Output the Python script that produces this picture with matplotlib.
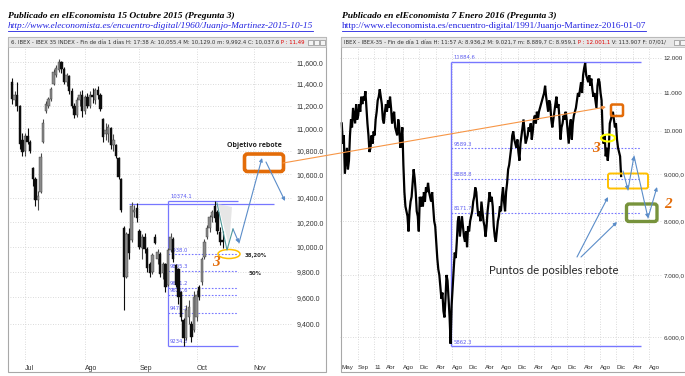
import matplotlib
matplotlib.use("Agg")
import matplotlib.pyplot as plt
import numpy as np
from matplotlib.patches import Rectangle, FancyBboxPatch, Ellipse, Polygon, FancyArrowPatch
from matplotlib.lines import Line2D
from matplotlib.transforms import Affine2D
from matplotlib.ticker import NullLocator, FixedLocator

# ---------------- data: left chart (IBEX 35 daily OHLC, 24 Jun - 14 Oct 2015) ----------------
l_open = [11420, 11250, 11300, 11200, 10900, 10800, 10930, 10880, 10650, 10560,
          10380, 10450, 10880, 11150, 11200, 11260, 11400, 11480, 11530, 11600,
          11540, 11420, 11470, 11330, 11200, 11120, 11250, 11300, 11150, 11280,
          11200, 11300, 11250, 11340, 11300, 11080, 10950, 10950, 11000, 10850,
          10850, 10740, 10560, 10150, 9760, 10100, 10050, 10280, 10320, 10130,
          9990, 10080, 9980, 9860, 9800, 10080, 9900, 9940, 9790, 9860,
          9700, 9970, 10060, 9850, 9820, 9640, 9430, 9290, 9450, 9400,
          9350, 9450, 9680, 9720, 9920, 10080, 10150, 10240, 10330, 10280,
          10120, 10055]
l_high = [11450, 11330, 11420, 11210, 10960, 10960, 11000, 10900, 10660, 10580,
          10460, 10780, 11080, 11240, 11280, 11370, 11540, 11570, 11630, 11610,
          11560, 11500, 11480, 11360, 11230, 11280, 11330, 11340, 11300, 11320,
          11330, 11360, 11360, 11380, 11320, 11090, 11050, 11040, 11010, 10950,
          10860, 10750, 10570, 10170, 10120, 10150, 10370, 10340, 10360, 10140,
          10100, 10110, 10000, 9880, 9950, 10100, 9980, 9960, 9880, 9870,
          9990, 10110, 10080, 9860, 9830, 9650, 9440, 9540, 9580, 9420,
          9650, 9660, 9700, 9920, 10060, 10180, 10260, 10300, 10374, 10300,
          10160, 10129]
l_low = [11220, 11200, 11150, 10820, 10760, 10760, 10860, 10780, 10500, 10330,
         10300, 10440, 10870, 11140, 11180, 11240, 11390, 11460, 11510, 11500,
         11400, 11380, 11310, 11180, 11090, 11100, 11200, 11100, 11130, 11180,
         11180, 11230, 11220, 11260, 11150, 10880, 10900, 10880, 10820, 10800,
         10740, 10560, 10280, 9500, 9750, 9900, 10040, 10240, 10200, 9980,
         9900, 9950, 9800, 9760, 9780, 10020, 9860, 9760, 9740, 9640,
         9690, 9960, 9880, 9680, 9550, 9420, 9234, 9280, 9400, 9260,
         9340, 9420, 9580, 9700, 9900, 10060, 10120, 10200, 10200, 10100,
         10010, 9992]
l_close = [11260, 11300, 11200, 10860, 10790, 10930, 10880, 10800, 10560, 10380,
           10420, 10750, 11050, 11220, 11260, 11350, 11510, 11550, 11600, 11540,
           11420, 11480, 11330, 11200, 11120, 11250, 11300, 11150, 11280, 11200,
           11300, 11280, 11340, 11300, 11170, 10920, 10980, 11010, 10850, 10900,
           10760, 10580, 10300, 9760, 10100, 9950, 10330, 10300, 10230, 10000,
           10080, 9980, 9830, 9790, 9930, 10030, 9960, 9780, 9860, 9680,
           9970, 10080, 9900, 9700, 9600, 9450, 9290, 9500, 9530, 9300,
           9600, 9620, 9600, 9900, 10040, 10150, 10240, 10280, 10230, 10130,
           10040, 10038]
l_month_idx = [5, 28, 49, 71, 93]
l_month_lbl = ["Jul", "Ago", "Sep", "Oct", "Nov"]
l_yticks = [9400, 9600, 9800, 10000, 10200, 10400, 10600, 10800, 11000, 11200, 11400, 11600]
l_fib_top, l_fib_bot = 10374.1, 9234.3
l_fib_mid = [9938.0, 9805.3, 9671.2, 9621.6, 9478.2]
l_resist = 10350

# ---------------- data: right chart (IBEX 35, May 2010 - Jan 2016, four readings per month) ----------------
r_start = 2010 + 4 / 12
r_vals = [
    10200, 9700, 9900, 9000, 9300, 9600, 9100, 9300, 9900, 10300, 10100, 10600,
    10400, 10200, 10700, 10300, 10400, 10700, 10500, 10900, 10700, 10900, 10800, 11050,
    10600, 10200, 9900, 9500, 9600, 9900, 9700, 10000,
    9900, 10300, 10500, 10800, 10900, 11100, 10900, 10700, 10300, 10200, 10500, 10700,
    10500, 10800, 10600, 10900, 10600, 10200, 10400, 10500, 10100, 10000, 9900, 10300,
    10100, 9600, 9800, 10100, 9200, 8600, 8300, 8200, 8100, 7800, 8200, 8400,
    8500, 8800, 9100, 8900, 8600, 8200, 8100, 7800, 8500, 8300, 8500, 8300,
    8600, 8400, 8700, 8600, 8800, 8600, 8500, 8400, 8600, 8300, 8000, 7900,
    7600, 7300, 7100, 7000, 6800, 6600, 6700, 6400, 6300, 6600, 7000, 6900,
    6600, 6300, 5900, 6500, 6800, 7100, 7400, 7300, 7600, 8000, 8100, 7700,
    7900, 8100, 7900, 7700, 7600, 7800, 7500, 7900, 7800, 8000, 8100, 8200,
    8400, 8500, 8700, 8600, 8300, 8100, 8200, 8000, 8400, 8200, 8000, 7900,
    7700, 7900, 8200, 8400, 8600, 8400, 8500, 8300, 7900, 7700, 7600, 7800,
    8000, 8100, 8300, 8200, 8500, 8700, 8400, 8200, 8600, 8800, 9100, 9200,
    9400, 9600, 9900, 10000, 9800, 9700, 9600, 9800, 9500, 9300, 9700, 9900,
    10100, 10300, 10000, 9700, 9800, 9900, 10100, 10000, 10200, 9800, 10000, 10300,
    10400, 10200, 10500, 10300, 10500, 10600, 10700, 10800, 10900, 11000, 11200, 10900,
    10700, 10500, 10800, 10700, 10300, 10100, 10300, 10500, 10700, 10900, 10600, 10700,
    10300, 9800, 10100, 10200, 10400, 10300, 10500, 10300, 10000, 9700, 10100, 10300,
    9800, 10200, 10400, 10500, 10600, 10800, 11000, 10900, 11100, 11300, 11000, 11500,
    11700, 11850, 11500, 11400, 11300, 11500, 11200, 11400, 11100, 10900, 11000, 10800,
    10600, 11200, 11400, 11300, 11000, 10800, 10000, 9700, 9900, 9400, 9600, 9300,
    9600, 10200, 10300, 10400, 10500, 10300, 10100, 10200, 9800, 9600, 9500, 9400,
    8950]
r_tick_pos = [2010 + 4 / 12, 2010 + 8 / 12, 2011.0] + \
    [y + m / 12 for y in range(2011, 2017) for m in (3, 7, 11)][:-1]
r_tick_lbl = ["May", "Sep", "11"] + ["Abr", "Ago", "Dic"] * 5 + ["Abr", "Ago"]
r_yticks = [6000, 7000, 8000, 9000, 10000, 11000, 12000]
r_ylbls = ["6.000,0", "7.000,0", "8.000,0", "9.000,0", "10.000", "11.000", "12.000"]
r_fib_top, r_fib_bot = 11884.6, 5862.3
r_fib_mid = [9589.3, 8888.8, 8171.7]

# ---------------- figure ----------------
W, H = 685, 376
fig = plt.figure(figsize=(W / 100, H / 100), dpi=100)
fig.patch.set_facecolor("white")
PX = Affine2D().scale(1, -1).translate(0, H).scale(0.01) + fig.dpi_scale_trans


def axrect(x0, y0, x1, y1):
    return [x0 / W, 1 - y1 / H, (x1 - x0) / W, (y1 - y0) / H]


GRID = "#cfcfcf"
FIB = "#7777ff"
TXT = "#333333"
TICKFONT = "Liberation Sans"

# panel frames and header bars
for x0, x1 in ((8, 326), (341, 686)):
    fig.add_artist(Rectangle((x0, 37), x1 - x0, 335, transform=PX, fill=False,
                             ec="#a8a8a8", lw=0.8))
    fig.add_artist(Rectangle((x0, 37), x1 - x0, 10, transform=PX, fc="#e6e6e6",
                             ec="#b5b5b5", lw=0.5))

# ---------------- left axes ----------------
axL = fig.add_axes(axrect(10, 47, 292, 362))
axL.set_yscale("log")
axL.set_ylim(9114, 11743)
axL.set_xlim(-0.77, 107.7)
idx = np.arange(len(l_open))
for i in idx:
    up = l_close[i] >= l_open[i]
    col = "#8a8a8a" if up else "#0d0d0d"
    axL.vlines(i, l_low[i], l_high[i], color="#4a4a4a" if up else "#0d0d0d", lw=0.8, zorder=3)
    lo, hi = min(l_open[i], l_close[i]), max(l_open[i], l_close[i])
    axL.bar(i, max(hi - lo, 8), bottom=lo, width=0.9, color=col, edgecolor="#3a3a3a" if up else col,
            lw=0.3, zorder=4)

axL.yaxis.set_major_locator(FixedLocator(l_yticks))
axL.yaxis.set_minor_locator(NullLocator())
axL.set_yticklabels([f"{v:,.1f}" for v in l_yticks], family=TICKFONT)
axL.yaxis.tick_right()
axL.set_xticks(l_month_idx)
axL.set_xticklabels(l_month_lbl, family=TICKFONT)
for lab in axL.get_xticklabels():
    lab.set_ha("left")
axL.tick_params(axis="both", length=0, labelsize=5.0, labelcolor=TXT)
axL.tick_params(axis="y", pad=3)
axL.tick_params(axis="x", pad=2)
axL.grid(True, color=GRID, lw=0.6, ls=(0, (1, 2)))
for s in axL.spines.values():
    s.set_visible(False)

# left fibonacci
fx0, fx1 = 60, 87
axL.vlines(fx0, l_fib_bot, l_fib_top, color=FIB, lw=0.9, zorder=2)
axL.hlines([l_fib_top, l_fib_bot], fx0, fx1, color=FIB, lw=0.9, zorder=2)
axL.hlines(l_resist, 45, 100.8, color=FIB, lw=0.9, zorder=2)
axL.hlines(l_fib_mid, fx0, fx1, color=FIB, lw=0.8, ls=(0, (1.5, 1.5)), zorder=2)
for v in [l_fib_top] + l_fib_mid + [l_fib_bot]:
    axL.text(fx0 + 0.8, v * 1.0015, f"{v:.1f}", color="#5a5af0", fontsize=3.8,
             va="bottom", ha="left", zorder=1)

# ---------------- right axes ----------------
axR = fig.add_axes(axrect(340, 47, 662, 362))
axR.set_yscale("log")
axR.set_ylim(5639, 12332)
axR.set_xlim(2010.308, 2016.84)
r_t = r_start + (np.arange(len(r_vals)) + 0.5) / 48
axR.plot(r_t, r_vals, color="black", lw=1.6, zorder=3, solid_joinstyle="miter")
axR.yaxis.set_major_locator(FixedLocator(r_yticks))
axR.yaxis.set_minor_locator(NullLocator())
axR.set_yticklabels(r_ylbls, family=TICKFONT)
axR.yaxis.tick_right()
axR.set_xticks(r_tick_pos)
axR.set_xticklabels(r_tick_lbl, family=TICKFONT)
for lab in axR.get_xticklabels():
    lab.set_ha("left")
axR.tick_params(axis="both", length=0, labelsize=4.5, labelcolor=TXT)
axR.tick_params(axis="y", pad=1.3)
axR.tick_params(axis="x", pad=2)
axR.grid(True, color=GRID, lw=0.6, ls=(0, (1, 2)))
for s in axR.spines.values():
    s.set_visible(False)

rx0, rx1 = 2012.56, 2016.41
axR.vlines(rx0, r_fib_bot, r_fib_top, color=FIB, lw=1.0, zorder=2)
axR.hlines([r_fib_top, r_fib_bot], rx0, rx1, color=FIB, lw=1.0, zorder=2)
axR.hlines(r_fib_mid, rx0, rx1, color=FIB, lw=0.8, ls=(0, (1.5, 1.5)), zorder=2)
for v in [r_fib_top] + r_fib_mid + [r_fib_bot]:
    axR.text(rx0 + 0.05, v * 1.004, f"{v:.1f}", color="#5a5af0", fontsize=3.8,
             va="bottom", ha="left", zorder=1)

# ---------------- titles / headers ----------------
fig.canvas.draw()
R = fig.canvas.get_renderer()


def ptext(x, y, s, **kw):
    return fig.text(x, y, s, transform=PX, **kw)


def seq_text(x, y, parts, **kw):
    for s, c in parts:
        t = ptext(x, y, s, color=c, ha="left", va="center", **kw)
        x += t.get_window_extent(renderer=R).width


TFONT = dict(family="Liberation Serif", fontsize=6.8, fontweight="bold", fontstyle="italic")
ptext(8, 16, "Publicado en elEconomista 15 Octubre 2015 (Pregunta 3)", va="center", **TFONT)
ptext(342, 16, "Publicado en elEconomista 7 Enero 2016 (Pregunta 3)", va="center", **TFONT)
for x, s, st in ((8, "http://www.eleconomista.es/encuentro-digital/1960/Juanjo-Martinez-2015-10-15", "italic"),
                 (342, "http://www.eleconomista.es/encuentro-digital/1991/Juanjo-Martinez-2016-01-07", "normal")):
    t = ptext(x, 26.5, s, va="center", family="Liberation Serif", fontsize=6.75,
              fontstyle=st, color="#2020e0")
    w = t.get_window_extent(renderer=R).width
    fig.add_artist(Line2D([x, x + w], [30.5, 30.5], transform=PX, color="#2020e0", lw=0.6))

HF = dict(family="DejaVu Sans", fontsize=3.9)
seq_text(11, 42.3, [("6. IBEX - IBEX 35 INDEX - Fin de día 1 días H: 17:38 A: 10,055.4 M: 10,129.0 m: 9,992.4 C: 10,037.6", "#333333"),
                    (" P : 11,49", "#e00000")], **HF)
seq_text(344, 42.3, [("IBEX - IBEX-35 - Fin de día 1 días H: 11:57 A: 8.936,2 M: 9.021,7 m: 8.889,7 C: 8.959,1", "#333333"),
                     (" P : 12.001,1", "#e00000"), (" V: 113.907 F: 07/01/", "#333333")], **HF)
for bx in (308, 314, 320, 674, 680):
    fig.add_artist(Rectangle((bx, 39.5), 4.5, 5, transform=PX, fc="#f4f4f4", ec="#777777", lw=0.4))

# ---------------- annotations ----------------
ORANGE = "#e36c09"
BLUE = "#5b8dc9"


def arrow(a, b, color=BLUE, lw=0.8, ms=5):
    fig.add_artist(FancyArrowPatch(a, b, transform=PX, arrowstyle="-|>", mutation_scale=ms,
                                   color=color, lw=lw, shrinkA=0, shrinkB=0))


def rbox(x0, y0, x1, y1, ec, lw, r=2.5):
    fig.add_artist(FancyBboxPatch((x0, y0), x1 - x0, y1 - y0, transform=PX,
                                  boxstyle=f"round,pad=0,rounding_size={r}",
                                  fill=False, ec=ec, lw=lw))


# left panel
ptext(254.5, 145.5, "Objetivo rebote", ha="center", va="center", family="Open Sans",
      fontweight="bold", fontsize=5.0, color="#222222")
rbox(244.5, 154, 283.5, 171.5, ORANGE, 2.6, 3)
fig.add_artist(Polygon([(218, 204), (232, 207), (229, 246)], closed=True, transform=PX,
                       fc="#dcdcdc", ec="none", alpha=0.7))
fig.add_artist(Line2D([217, 227, 233], [203, 250, 229], transform=PX, color="#4f9a9a", lw=0.8))
arrow((233, 229), (239, 243))
arrow((239, 243), (262, 158))
arrow((266, 162), (285, 201))
fig.add_artist(Ellipse((229, 254), 22, 9, transform=PX, fill=False, ec="#ffc000", lw=1.1))
ptext(216, 263, "3", ha="center", va="center", family="Liberation Serif", fontstyle="italic",
      fontweight="bold", fontsize=11, color=ORANGE)
ptext(245, 255, "38,20%", ha="left", va="center", family="DejaVu Sans", fontweight="bold",
      fontsize=3.9, color="#333333")
ptext(249, 273.5, "50%", ha="left", va="center", family="DejaVu Sans", fontweight="bold",
      fontsize=3.9, color="#333333")

# connector to right panel
arrow((283, 163), (606, 107), color="#f79646", lw=0.8, ms=5)

# right panel
rbox(611, 104.5, 623, 116, ORANGE, 1.8, 1.5)
fig.add_artist(Ellipse((608, 138), 14, 7, transform=PX, fill=False, ec="#ffff00", lw=1.5))
ptext(596, 148, "3", ha="center", va="center", family="Liberation Serif", fontstyle="italic",
      fontweight="bold", fontsize=11, color=ORANGE)
rbox(608, 173.5, 648, 188.5, "#ffc000", 1.4, 2)
rbox(626.5, 204, 657, 221.5, "#77933c", 2.4, 2.5)
ptext(668, 205, "2", ha="center", va="center", family="Liberation Serif", fontstyle="italic",
      fontweight="bold", fontsize=11, color=ORANGE)
arrow((623, 171), (628, 190))
arrow((628, 190), (634, 156))
arrow((634, 156), (648, 218))
arrow((648, 218), (657, 187))
arrow((577, 257), (608, 197))
arrow((581, 257), (617, 222))
ptext(554, 271, "Puntos de posibles rebote", ha="center", va="center", family="Lato",
      fontsize=8.2, color="#262626")

fig.savefig("out.png", dpi=100, facecolor="white")
